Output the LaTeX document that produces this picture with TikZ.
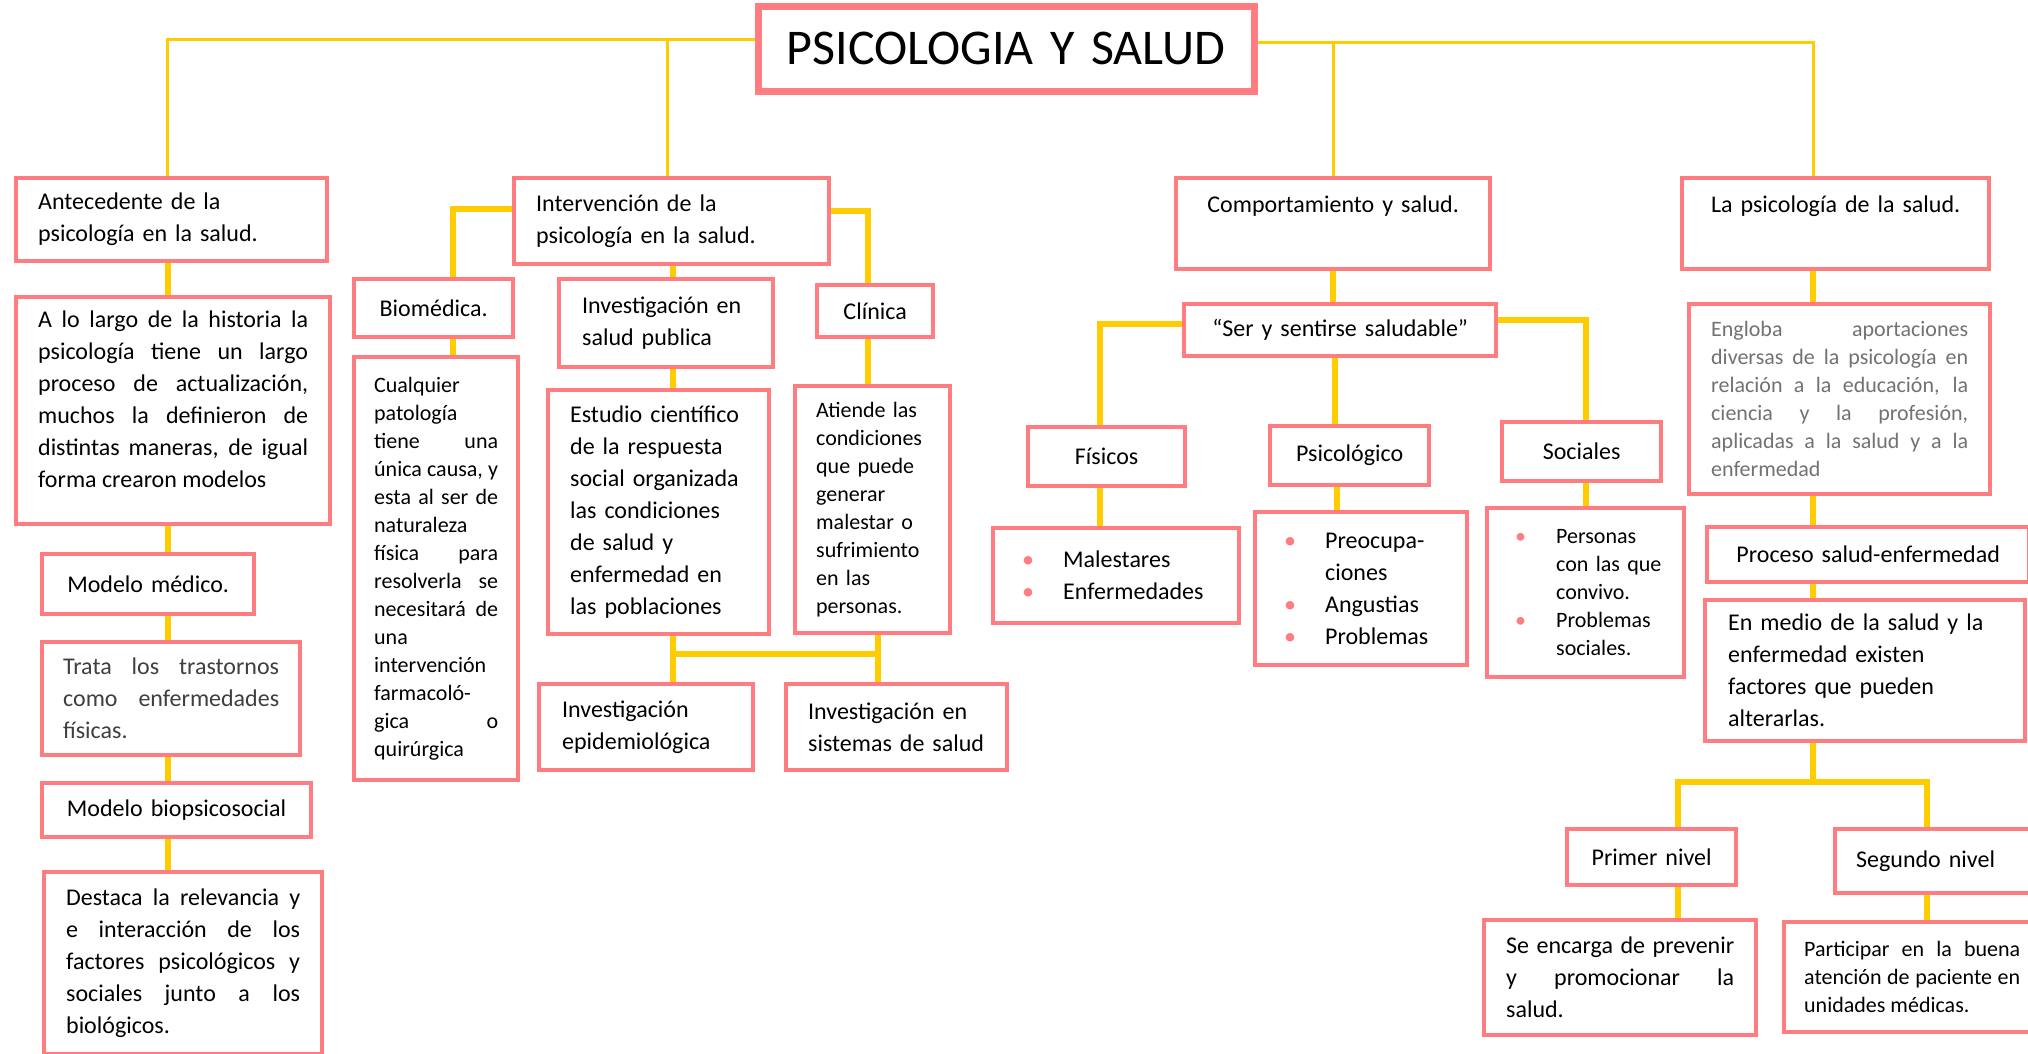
\documentclass[tikz,border=0pt]{standalone}
\usepackage{fontspec}
\setmainfont{Carlito}
\usetikzlibrary{backgrounds}

\definecolor{boxpink}{HTML}{FF7C80}
\definecolor{lineyellow}{HTML}{FFCC00}
\definecolor{notegray}{HTML}{757171}
\definecolor{darktext}{HTML}{3F3F3F}

\newcommand{\bodysize}{\fontsize{24}{32}\selectfont}
\newcommand{\smallsize}{\fontsize{22}{28}\selectfont}
\newcommand{\titlesize}{\fontsize{50}{60}\selectfont}
\newlength{\dotind}
\setlength{\dotind}{46pt}
\newlength{\dotgap}
\setlength{\dotgap}{5pt}
\newcommand{\dotitem}[1]{\hangindent=\dotind\hangafter=1\noindent
  \makebox[\dotind][l]{\hspace{\dotgap}\textcolor{boxpink}{\textbullet}}#1\par}
\tolerance=10000
\hbadness=10000

\begin{document}
\begin{tikzpicture}[x=1pt,y=-1pt,
  box/.style={rectangle,draw=boxpink,line width=4.3pt,fill=white,
    anchor=north west,inner xsep=22pt,inner ysep=8pt,font=\bodysize,align=left},
  trunk/.style={draw=lineyellow,line width=3pt},
  branch/.style={draw=lineyellow,line width=5.5pt}]

  \useasboundingbox (0,0) rectangle (2028,1053);

  \node (tit) [box,line width=6.5pt,font=\titlesize,align=center,
    text width=452pt,minimum height=85pt] at (755,3) {PSICOLOGIA Y SALUD};

  \node (ant) [box,text width=267pt,minimum height=83pt] at (14,176)
    {Antecedente de la\\psicología en la salud.};
  \node (int) [box,text width=271pt,minimum height=86pt] at (512,176)
    {Intervención de la\\psicología en la salud.};
  \node (com) [box,align=center,text width=270pt,minimum height=91pt] at (1174,176)
    {Comportamiento y salud.\rule[-38pt]{0pt}{0pt}};
  \node (lps) [box,align=center,text width=263pt,minimum height=91pt] at (1680,176)
    {La psicología de la salud.\rule[-38pt]{0pt}{0pt}};

  \node (alg) [box,align=justify,text width=270pt,minimum height=227pt] at (14,295)
    {A lo largo de la historia la\linebreak psicología tiene un largo\linebreak
     proceso de actualización,\linebreak muchos la definieron de\linebreak
     distintas maneras, de igual\linebreak forma crearon modelos\rule[-22pt]{0pt}{0pt}};
  \node (med) [box,align=center,text width=168pt,minimum height=60pt] at (40,552)
    {Modelo médico.};
  \node (tra) [box,align=justify,text=darktext,inner xsep=21pt,text width=216pt,
    minimum height=113pt] at (40,640)
    {Trata los trastornos\linebreak como enfermedades\linebreak físicas.};
  \node (bps) [box,align=center,text width=225pt,minimum height=54pt] at (40,781)
    {Modelo biopsicosocial};
  \node (des) [box,align=justify,text width=234pt,minimum height=182pt] at (42,870)
    {Destaca la relevancia y\linebreak e interacción de los\linebreak
     factores psicológicos y\linebreak sociales junto a los\linebreak biológicos.};

  \node (bmd) [box,align=center,text width=115pt,minimum height=58pt] at (352,277)
    {Biomédica.};
  \node (cua) [box,align=justify,font=\smallsize,inner xsep=20pt,text width=124pt,
    minimum height=423pt] at (352,355)
    {Cualquier\linebreak patología\linebreak tiene una\linebreak única causa, y\linebreak
     esta al ser de\linebreak naturaleza\linebreak física para\linebreak
     resolverla se\linebreak necesitará de\linebreak una\linebreak intervención\linebreak
     farmacoló-\linebreak gica o\linebreak quirúrgica};
  \node (isp) [box,inner xsep=23pt,text width=168pt,minimum height=88pt] at (557,277)
    {Investigación en\\salud publica};
  \node (cln) [box,align=center,text width=72pt,minimum height=52pt] at (815,283)
    {Clínica};
  \node (est) [box,text width=177pt,minimum height=244pt] at (546,388)
    {Estudio científico\\de la respuesta\\social organizada\\las condiciones\\
     de salud y\\enfermedad en\\las poblaciones};
  \node (ati) [box,font=\smallsize,inner xsep=21pt,text width=113pt,
    minimum height=247pt] at (793,384)
    {Atiende las\\condiciones\\que puede\\generar\\malestar o\\sufrimiento\\
     en las\\personas.};
  \node (epi) [box,inner xsep=23pt,text width=168pt,minimum height=86pt] at (537,682)
    {Investigación\\epidemiológica};
  \node (sis) [box,text width=177pt,minimum height=86pt] at (784,682)
    {Investigación en\\sistemas de salud};

  \node (ser) [box,align=center,text width=268pt,minimum height=52pt] at (1182,302)
    {“Ser y sentirse saludable”};
  \node (fis) [box,align=center,text width=113pt,minimum height=59pt] at (1026,425)
    {Físicos};
  \node (psg) [box,align=center,text width=115pt,minimum height=59pt] at (1268,424)
    {Psicológico};
  \node (soc) [box,align=center,text width=115pt,minimum height=59pt] at (1500,420)
    {Sociales};
  \node (mal) [box,inner xsep=24pt,text width=198pt,minimum height=95pt] at (991,526)
    {\dotitem{Malestares}\dotitem{Enfermedades}};
  \node (pre) [box,inner xsep=24pt,text width=164pt,minimum height=153pt] at (1253,510)
    {\dotitem{Preocupa-\newline ciones}\dotitem{Angustias}\dotitem{Problemas}};
  \node (per) [box,font=\smallsize,inner xsep=19pt,text width=159pt,
    minimum height=169pt] at (1485,506)
    {\setlength{\dotgap}{9pt}\setlength{\dotind}{50pt}%
     \dotitem{Personas\newline con las que\newline convivo.}\dotitem{Problemas\newline sociales.}};

  \node (eng) [box,align=justify,font=\smallsize,text=notegray,text width=257pt,
    minimum height=190pt] at (1687,302)
    {Engloba aportaciones\linebreak diversas de la psicología en\linebreak
     relación a la educación, la\linebreak ciencia y la profesión,\linebreak
     aplicadas a la salud y a la\linebreak enfermedad};
  \node (pro) [box,align=center,text width=278pt,minimum height=55pt] at (1705,525)
    {Proceso salud-enfermedad};
  \node (enm) [box,inner xsep=23pt,text width=274pt,minimum height=141pt] at (1703,598)
    {En medio de la salud y la\\enfermedad existen\\factores que pueden\\alterarlas.};
  \node (pri) [box,align=center,text width=125pt,minimum height=56pt] at (1565,827)
    {Primer nivel};
  \node (seg) [box,inner xsep=21pt,text width=188pt,minimum height=64pt] at (1833,827)
    {Segundo nivel};
  \node (sen) [box,align=justify,text width=228pt,minimum height=115pt] at (1482,918)
    {Se encarga de prevenir\linebreak y promocionar la\linebreak salud.};
  \node (par) [box,align=justify,font=\smallsize,inner xsep=20pt,text width=216pt,
    minimum height=110pt] at (1782,920)
    {Participar en la buena\linebreak atención de paciente en\linebreak unidades médicas.};

  \begin{pgfonlayer}{background}
    \coordinate (lt) at ([yshift=9.5pt]tit.west);
    \coordinate (rt) at ([yshift=6.5pt]tit.east);
    \coordinate (lc) at (168,0);
    \coordinate (rc) at (1813,0);
    \coordinate (intx) at ([xshift=-4pt]int.north);
    \coordinate (bmdx) at ([xshift=19.5pt]bmd.north);
    \coordinate (clnx) at ([xshift=-7pt]cln.north);
    \coordinate (ic) at (673,0);
    \coordinate (jc) at (878,0);
    \coordinate (bus) at (0,654);
    \coordinate (fisx) at ([xshift=-6.5pt]fis.north);
    \coordinate (serx) at ([xshift=-5pt]ser.south);
    \coordinate (psgx) at ([xshift=-12.5pt]psg.south);
    \coordinate (socx) at ([xshift=4.5pt]soc.north);
    \coordinate (nb) at (0,782);
    \coordinate (pc) at ([xshift=26.5pt]pri.north);
    \coordinate (sc) at ([xshift=-23pt]seg.north);

    \draw[trunk] ([xshift=-4pt]ant.north) |- (lt);
    \draw[trunk] (intx) -- (intx |- lt);
    \draw[trunk] (com.north) -- (com.north |- rt);
    \draw[trunk] (rt) -| (rc |- lps.north);

    \draw[branch] (lc |- ant.south) -- (lc |- alg.north);
    \draw[branch] (lc |- alg.south) -- (lc |- med.north);
    \draw[branch] (lc |- med.south) -- (lc |- tra.north);
    \draw[branch] (lc |- tra.south) -- (lc |- bps.north);
    \draw[branch] (lc |- bps.south) -- (lc |- des.north);

    \draw[branch] ([yshift=12pt]int.west) -| (bmdx);
    \draw[branch] (bmdx |- bmd.south) -- (bmdx |- cua.north);
    \draw[branch] ([yshift=10pt]int.east) -| (clnx);
    \draw[branch] (clnx |- cln.south) -- (clnx |- ati.north);
    \draw[branch] (ic |- int.south) -- (ic |- isp.north);
    \draw[branch] (ic |- isp.south) -- (ic |- est.north);
    \draw[branch] (ic |- est.south) -- (ic |- epi.north);
    \draw[branch] (jc |- ati.south) -- (jc |- sis.north);
    \draw[branch] (ic |- bus) -- (jc |- bus);

    \draw[branch] (com.south) -- (com.south |- ser.north);
    \draw[branch] ([yshift=6pt]ser.west) -| (fisx);
    \draw[branch] (serx) -- (serx |- psg.north);
    \draw[branch] ([yshift=10pt]ser.east) -| (socx);
    \draw[branch] (fisx |- fis.south) -- (fisx |- mal.north);
    \draw[branch] (psgx) -- (psgx |- pre.north);
    \draw[branch] (socx |- soc.south) -- (socx |- per.north);

    \draw[branch] (rc |- lps.south) -- (rc |- eng.north);
    \draw[branch] (rc |- eng.south) -- (rc |- pro.north);
    \draw[branch] (rc |- pro.south) -- (rc |- enm.north);
    \draw[branch] (rc |- enm.south) -- (rc |- nb);
    \draw[branch] (pc) |- (sc |- nb) -- (sc);
    \draw[branch] (pc |- pri.south) -- (pc |- sen.north);
    \draw[branch] (sc |- seg.south) -- (sc |- par.north);
  \end{pgfonlayer}
\end{tikzpicture}
\end{document}
